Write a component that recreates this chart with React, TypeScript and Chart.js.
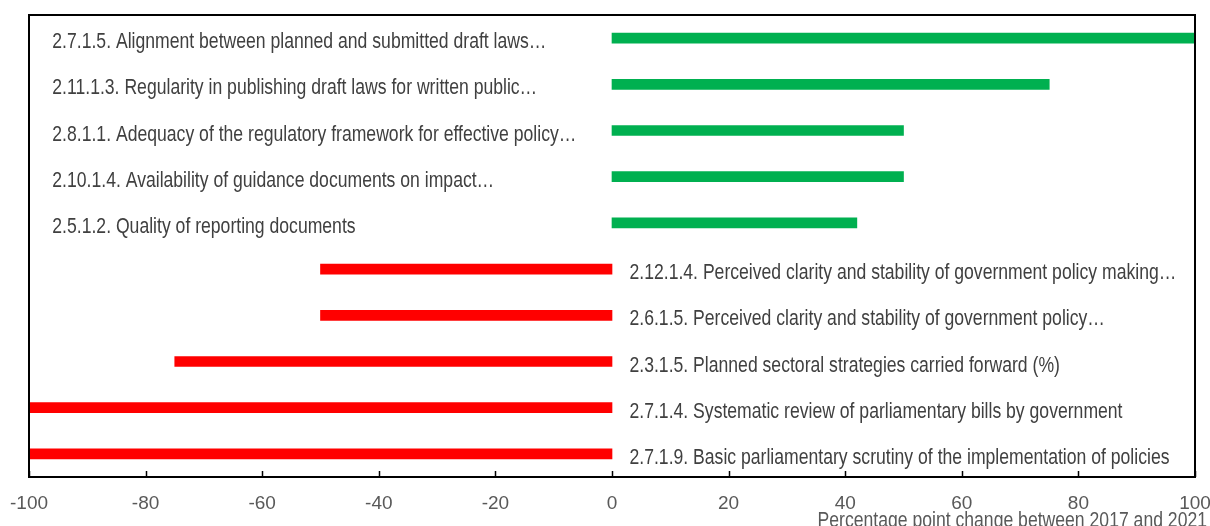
import React, { useEffect, useRef } from "react";
import { Chart, registerables } from "chart.js";

Chart.register(...registerables);

const categories: string[] = [
  "2.7.1.5. Alignment between planned and submitted draft laws…",
  "2.11.1.3. Regularity in publishing draft laws for written public…",
  "2.8.1.1. Adequacy of the regulatory framework for effective policy…",
  "2.10.1.4. Availability of guidance documents on impact…",
  "2.5.1.2. Quality of reporting documents",
  "2.12.1.4. Perceived clarity and stability of government policy making…",
  "2.6.1.5. Perceived clarity and stability of government policy…",
  "2.3.1.5. Planned sectoral strategies carried forward (%)",
  "2.7.1.4. Systematic review of parliamentary bills by government",
  "2.7.1.9. Basic parliamentary scrutiny of the implementation of policies",
];

const changeValues: number[] = [100, 75, 50, 50, 42, -50, -50, -75, -100, -100];

const xTickValues: number[] = [-100, -80, -60, -40, -20, 0, 20, 40, 60, 80, 100];

const axisTitle = "Percentage point change between 2017 and 2021";

const FONT = "'Liberation Sans', Arial, sans-serif";
const NARROW = 0.8;
const GREEN = "#00B050";
const RED = "#FF0000";

function narrowText(ctx: CanvasRenderingContext2D, text: string, x: number, y: number, align: "left" | "right") {
  ctx.save();
  ctx.translate(x, y);
  ctx.scale(NARROW, 1);
  ctx.textAlign = align;
  ctx.fillText(text, 0, 0);
  ctx.restore();
}

const framePlugin = {
  id: "frameAndLabels",
  afterDatasetsDraw(chart: any) {
    const { ctx, chartArea: a, scales } = chart;
    const x = scales.x;
    const y = scales.y;
    ctx.save();
    // frame
    ctx.strokeStyle = "#000000";
    ctx.lineWidth = 2;
    ctx.strokeRect(a.left, a.top, a.right - a.left, a.bottom - a.top);
    // inner tick marks
    ctx.lineWidth = 1.5;
    xTickValues.forEach((v) => {
      const px = Math.round(x.getPixelForValue(v)) + 0.5;
      ctx.beginPath();
      ctx.moveTo(px, a.bottom);
      ctx.lineTo(px, a.bottom - 6);
      ctx.stroke();
    });
    // data labels
    ctx.font = `22px ${FONT}`;
    ctx.fillStyle = "#404040";
    ctx.textBaseline = "alphabetic";
    changeValues.forEach((v, i) => {
      const py = y.getPixelForValue(i);
      const px = v >= 0 ? x.getPixelForValue(-96) : x.getPixelForValue(3);
      narrowText(ctx, categories[i], px, py + 10, "left");
    });
    // axis title
    ctx.fillStyle = "#595959";
    narrowText(ctx, axisTitle, x.right + 12, a.bottom + 50, "right");
    ctx.restore();
  },
};

export default function App() {
  const ref = useRef<HTMLCanvasElement | null>(null);
  useEffect(() => {
    if (!ref.current) return;
    const chart = new Chart(ref.current, {
      type: "bar",
      data: {
        labels: categories,
        datasets: [
          {
            data: changeValues,
            backgroundColor: changeValues.map((v) => (v >= 0 ? GREEN : RED)),
            barThickness: 10,
            borderWidth: 0,
          },
        ],
      },
      options: {
        indexAxis: "y",
        animation: false,
        responsive: false,
        layout: { padding: { left: 29, right: 15, top: 15, bottom: 0 } },
        plugins: {
          legend: { display: false },
          tooltip: { enabled: false },
        },
        scales: {
          x: {
            type: "linear",
            min: -100,
            max: 100,
            grid: { display: false, drawTicks: false },
            border: { display: false },
            afterBuildTicks: (scale: any) => {
              scale.ticks = xTickValues.map((v) => ({ value: v }));
            },
            afterFit: (scale: any) => {
              scale.height = 49;
              scale.paddingLeft = 0;
              scale.paddingRight = 0;
            },
            ticks: {
              color: "#595959",
              font: { family: FONT, size: 19 },
              padding: 15,
              maxRotation: 0,
              autoSkip: false,
            },
          },
          y: {
            display: false,
          },
        },
      },
      plugins: [framePlugin],
    });
    return () => chart.destroy();
  }, []);
  return (
    <div style={{ position: "absolute", left: 0, top: 0, width: 1210, height: 526, background: "#fff" }}>
      <canvas ref={ref} width={1210} height={526} style={{ display: "block" }} />
    </div>
  );
}
